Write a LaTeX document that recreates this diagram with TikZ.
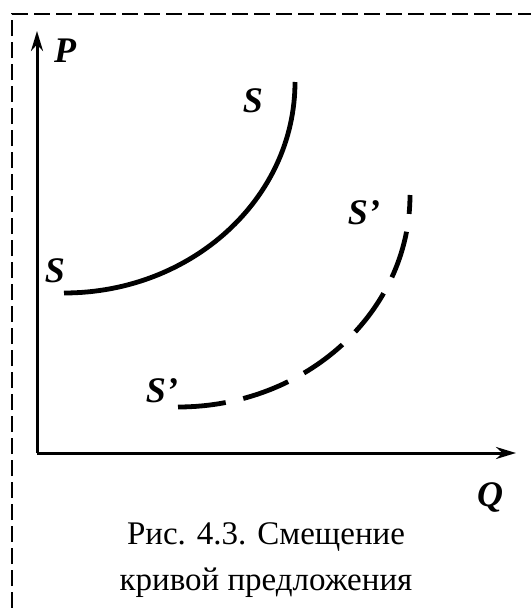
\documentclass[tikz,border=0pt]{standalone}
\usepackage{fontspec}
\setmainfont{Liberation Serif}
\usetikzlibrary{arrows.meta}
\begin{document}
\begin{tikzpicture}[x=1pt,y=1pt,
  lbl/.style={font=\fontsize{36}{38}\selectfont\bfseries\itshape, inner sep=0pt},
  axis/.style={line width=3pt, -{Stealth[length=20pt,width=12pt]}},
  curve/.style={line width=4.8pt},
  frame/.style={line width=2pt, dash pattern=on 16pt off 6pt}]
\useasboundingbox (0,0) rectangle (531,-608);
\draw[frame] (12,-608) -- (12,-14) -- (531,-14);
\coordinate (O) at (37,-453);
\coordinate (Ptip) at (37,-31);
\coordinate (Qtip) at (516,-453);
\draw[axis] (O) -- (Ptip);
\draw[axis] (O) -- (Qtip);
\node[lbl] (P) at (65,-51) {P};
\node[lbl] (Q) at (490,-497) {Q};
\coordinate (s0) at (64,-293);
\draw[curve] (s0) arc[start angle=-90, end angle=0, x radius=231, y radius=211] coordinate (s1);
\coordinate (d0) at (178,-407);
\draw[curve, dash pattern=on 48pt off 18pt] (d0) arc[start angle=-90, end angle=0, x radius=232, y radius=212] coordinate (d1);
\node[lbl] (Sa) at (253,-101) {S};
\node[lbl] (Sb) at (55,-271) {S};
\node[lbl] (Sc) at (364,-213) {S’};
\node[lbl] (Sd) at (162,-391) {S’};
\node[font=\fontsize{33}{46}\selectfont, align=center, inner sep=0pt] (cap) at (266,-560) {Рис. 4.3. Смещение\\кривой предложения};
\end{tikzpicture}
\end{document}
